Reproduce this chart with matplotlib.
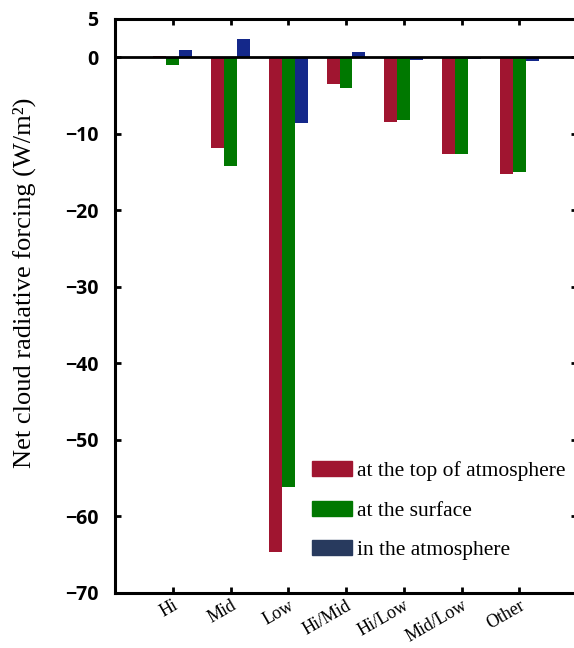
import numpy as np
import matplotlib
matplotlib.use('Agg')
import matplotlib.pyplot as plt
from matplotlib.patches import Patch

categories = ['Hi', 'Mid', 'Low', 'Hi/Mid', 'Hi/Low', 'Mid/Low', 'Other']
toa = [0.2, -11.9, -64.6, -3.5, -8.4, -12.7, -15.2]
surface = [-1.0, -14.2, -56.2, -4.0, -8.2, -12.7, -15.0]
atmosphere = [1.0, 2.4, -8.6, 0.7, -0.35, -0.2, -0.5]
labels = ['at the top of atmosphere', 'at the surface', 'in the atmosphere']

colordict = {'toa': '#A01530', 'sfc': '#007800', 'atm': '#14288A',
             'atm_leg': '#283A5E'}
serif = ['Liberation Serif', 'DejaVu Serif']

fig = plt.figure(figsize=(5.74, 6.48), dpi=100)
ax = fig.add_axes([115 / 574, 55 / 648, 462 / 574, 574 / 648])

x = np.arange(1, len(categories) + 1)
barwidth = 0.225
ax.bar(x - barwidth, toa, barwidth, color=colordict['toa'])
ax.bar(x, surface, barwidth, color=colordict['sfc'])
ax.bar(x + barwidth, atmosphere, barwidth, color=colordict['atm'])
ax.axhline(0, color='black', lw=2, zorder=3)

ax.set_xlim(0, 8)
ax.set_ylim(-70, 5)
ax.set_yticks([5, 0, -10, -20, -30, -40, -50, -60, -70])
ax.set_yticklabels(['5', '0', '\u221210', '\u221220', '\u221230', '\u221240',
                    '\u221250', '\u221260', '\u221270'],
                   fontfamily=['Open Sans', 'DejaVu Sans'], fontweight='bold', fontsize=14)
ax.set_xticks(x)
ax.set_xticklabels(categories, rotation=30, ha='right', rotation_mode='anchor',
                   fontfamily=serif, fontsize=13)
ax.tick_params(direction='in', length=4, width=2, top=True, right=True)
ax.tick_params(axis='y', pad=12)
ax.tick_params(axis='x', pad=3)
for s in ax.spines.values():
    s.set_linewidth(2.2)

ax.set_ylabel('Net cloud radiative forcing (W/m\u00b2)', fontfamily=serif, fontsize=19)
ax.yaxis.set_label_coords(-0.17, 0.54)

handles = [Patch(color=colordict['toa']), Patch(color=colordict['sfc']),
           Patch(color=colordict['atm_leg'])]
ax.legend(handles, labels, loc='upper left', bbox_to_anchor=(312 / 574, 1 - 461 / 648),
          bbox_transform=fig.transFigure, frameon=False, borderpad=0, borderaxespad=0,
          handlelength=1.85, handleheight=0.72, handletextpad=0.25, labelspacing=0.9,
          prop={'family': serif, 'size': 15.5})

plt.savefig('out.png', dpi=100)
